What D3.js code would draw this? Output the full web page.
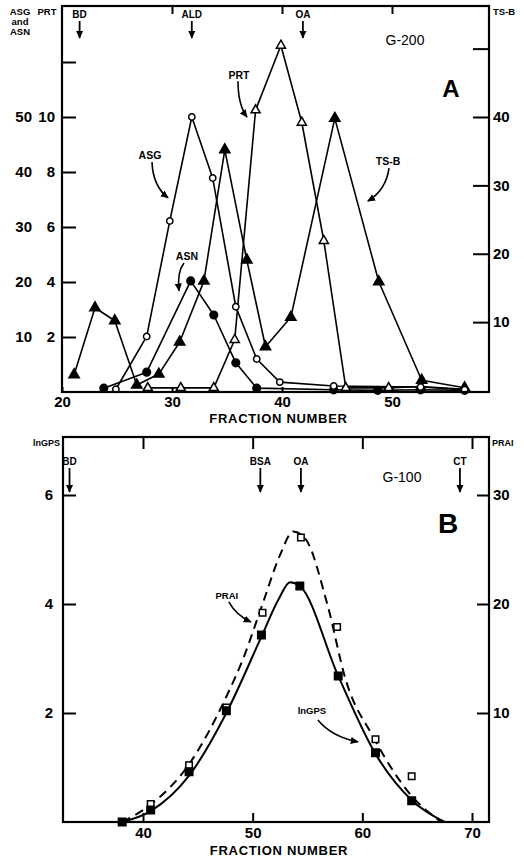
<!DOCTYPE html>
<html>
<head>
<meta charset="utf-8">
<script src="https://cdn.jsdelivr.net/npm/d3@7"></script>
<style>
  body { margin: 0; background: #fff; }
  svg { display: block; font-family: "Liberation Sans", Arial, sans-serif; }
</style>
</head>
<body>
<svg id="chart" width="524" height="857"></svg>
<script>
// ---- panel A (G-200): [fraction, value] ----
var asg = [[24.9,0.5],[27.7,10.1],[29.8,31.1],[31.8,50],[33.7,38.9],[35.8,15.5],[37.7,6],[39.8,1.8],[44.7,1.1],[52.6,0.9],[56.6,0.4]];
var asn = [[23.8,0.7],[27.7,3.6],[31.7,20.2],[33.8,14],[35.8,5.3],[37.7,0.7],[44.7,0.4],[48.7,0.3],[52.6,0.4],[56.6,0.3]];
var prt = [[27.8,0.15],[30.8,0.15],[33.8,0.15],[35.7,1.9],[37.6,10.25],[39.9,12.6],[41.8,9.8],[43.8,5.5],[45.8,0.15],[49.7,0.15],[52.6,0.2],[56.6,0.1]];
var tsb = [[21.1,2.3],[23,12.1],[24.8,10.2],[26.8,0.8],[28.8,2.4],[30.7,7.1],[32.9,16],[34.8,35.2],[36.8,19.1],[38.5,6.4],[40.8,10.7],[44.8,39.8],[48.8,15.9],[52.7,1.5],[56.6,0.4]];

var asgTicks = [10,20,30,40,50,60];
var asgLabels = ["10","20","30","40","50",""];
var prtLabels = ["2","4","6","8","10",""];
var tsbTicks = [10,20,30,40,50];
var tsbLabels = ["10","20","30","40",""];
var fracTicksA = [20,30,40,50];
var topTicksA = [30,40,50];
var markersA = ["BD","ALD","OA"];
var markerFracA = [21.6,31.8,41.9];

// ---- panel B (G-100) ----
var lngps = [[38.1,0],[40.7,0.22],[44.2,0.92],[47.6,2.04],[50.8,3.43],[54.3,4.33],[57.8,2.68],[61.2,1.27],[64.5,0.39]];
var prai = [[38.1,0],[40.7,1.65],[44.2,5.2],[47.6,10.5],[50.9,19.2],[54.4,26.1],[57.7,17.9],[61.2,7.6],[64.5,4.2]];
var lngpsFit = [[38.1,0],[40.7,0.2],[44.2,0.85],[47.6,2.0],[50.8,3.4],[52.4,4.1],[53.4,4.4],[54.3,4.33],[57.8,2.68],[61.2,1.25],[64.5,0.4],[67.5,0]];
var praiFit = [[38.1,0],[40.7,1.6],[44.2,5.3],[47.6,11.5],[49.1,14.9],[50.9,20],[52.5,24.5],[53.7,26.65],[54.8,26],[56.8,20],[58.5,13],[61,7.8],[64.2,2.75],[67.2,0]];

var lngpsTicks = [2,4,6];
var praiTicks = [10,20,30];
var fracTicksB = [40,50,60,70];
var markersB = ["BD","BSA","OA","CT"];
var markerFracB = [33.3,50.7,54.4,68.9];

var svg = d3.select("#chart");

svg.append("defs").append("marker")
    .attr("id", "head")
    .attr("viewBox", "0 0 10 10")
    .attr("refX", 9).attr("refY", 5)
    .attr("markerWidth", 8).attr("markerHeight", 8)
    .attr("markerUnits", "userSpaceOnUse")
    .attr("orient", "auto")
  .append("path")
    .attr("d", "M0,0.5 L10,5 L0,9.5 Z")
    .attr("fill", "#000");

function styleAxis(g, size, weight) {
  g.select(".domain").remove();
  g.attr("font-family", null).attr("font-size", null);
  g.selectAll(".tick line").attr("stroke", "#000").attr("stroke-width", 2);
  g.selectAll(".tick text").attr("font-size", size).attr("font-weight", weight || "bold").attr("fill", "#000");
}

function label(g, x, y, txt, size, anchor, weight) {
  return g.append("text").attr("x", x).attr("y", y)
    .attr("text-anchor", anchor || "middle")
    .attr("font-size", size)
    .attr("font-weight", weight || "bold")
    .text(txt);
}

function curvedArrow(g, p) {
  g.append("path")
    .attr("d", "M" + p[0] + "," + p[1] + " Q" + p[2] + "," + p[3] + " " + p[4] + "," + p[5])
    .attr("fill", "none").attr("stroke", "#000").attr("stroke-width", 1.6)
    .attr("marker-end", "url(#head)");
}

function marks(g, data, x, y, shape, size, filled) {
  g.selectAll(null).data(data).enter().append("path")
    .attr("transform", function(d) { return "translate(" + x(d[0]) + "," + y(d[1]) + ")"; })
    .attr("d", d3.symbol().type(shape).size(size))
    .attr("fill", filled ? "#000" : "#fff")
    .attr("stroke", "#000")
    .attr("stroke-width", 1.5);
}

function lineOf(g, data, x, y, curve, dash, w) {
  g.append("path").datum(data)
    .attr("fill", "none").attr("stroke", "#000")
    .attr("stroke-width", w)
    .attr("stroke-dasharray", dash)
    .attr("stroke-linejoin", "round")
    .attr("d", d3.line().x(function(d) { return x(d[0]); }).y(function(d) { return y(d[1]); }).curve(curve));
}

// ================= Panel A =================
var fA = {left: 62, right: 489, top: 6, bottom: 392};
var xA = d3.scaleLinear().domain([20, 50]).range([62, 392]);
var yA = d3.scaleLinear().domain([0, 50]).range([392, 117]);
var yP = d3.scaleLinear().domain([0, 10]).range([392, 117]);
var yT = d3.scaleLinear().domain([0, 40]).range([390.5, 117]);

var gA = svg.append("g");

// data lines
lineOf(gA, tsb, xA, yT, d3.curveLinear, null, 1.6);
lineOf(gA, asg, xA, yA, d3.curveLinear, null, 1.6);
lineOf(gA, asn, xA, yA, d3.curveLinear, null, 1.6);
lineOf(gA, prt, xA, yP, d3.curveLinear, null, 1.6);

marks(gA, tsb, xA, yT, d3.symbolTriangle, 46, true);
marks(gA, prt, xA, yP, d3.symbolTriangle, 36, false);
marks(gA, asn, xA, yA, d3.symbolCircle, 46, true);
marks(gA, asg, xA, yA, d3.symbolCircle, 32, false);

// frame
gA.append("rect").attr("x", fA.left).attr("y", fA.top)
  .attr("width", fA.right - fA.left).attr("height", fA.bottom - fA.top)
  .attr("fill", "none").attr("stroke", "#000").attr("stroke-width", 2.2);

gA.append("g").attr("transform", "translate(" + fA.left + ",0)")
  .call(d3.axisLeft(yA).tickValues(asgTicks).tickSize(-14).tickSizeOuter(0).tickPadding(7)
    .tickFormat(function(d, i) { return prtLabels[i]; }))
  .call(styleAxis, 15);
gA.append("g").attr("transform", "translate(" + fA.left + ",0)")
  .call(d3.axisLeft(yA).tickValues(asgTicks).tickSize(0).tickSizeOuter(0).tickPadding(30)
    .tickFormat(function(d, i) { return asgLabels[i]; }))
  .call(styleAxis, 15);
gA.append("g").attr("transform", "translate(" + fA.right + ",0)")
  .call(d3.axisRight(yT).tickValues(tsbTicks).tickSize(-16).tickSizeOuter(0).tickPadding(4)
    .tickFormat(function(d, i) { return tsbLabels[i]; }))
  .call(styleAxis, 15);
gA.append("g").attr("transform", "translate(0," + fA.bottom + ")")
  .call(d3.axisBottom(xA).tickValues(fracTicksA).tickSize(-5).tickSizeOuter(0).tickPadding(4).tickFormat(d3.format("d")))
  .call(styleAxis, 15);
gA.append("g").attr("transform", "translate(0," + fA.top + ")")
  .call(d3.axisTop(xA).tickValues(topTicksA).tickSize(-8).tickSizeOuter(0).tickFormat(""))
  .call(styleAxis, 15);

label(gA, 20, 15, "ASG", 9.5);
label(gA, 20, 25, "and", 9.5);
label(gA, 20, 35, "ASN", 9.5);
label(gA, 47, 15, "PRT", 9.5);
label(gA, 493, 15, "TS-B", 9.5, "start");
label(gA, 405, 45, "G-200", 14, "middle", "normal");
label(gA, 451, 97, "A", 24);
label(gA, (fA.left + fA.right) / 2 + 3, 423, "FRACTION NUMBER", 13).attr("letter-spacing", 0.7);

markersA.forEach(function(m, i) {
  var x = xA(markerFracA[i]);
  label(gA, x, fA.top + 12, m, 10);
  gA.append("line").attr("x1", x).attr("x2", x).attr("y1", fA.top + 15).attr("y2", fA.top + 32)
    .attr("stroke", "#000").attr("stroke-width", 1.8).attr("marker-end", "url(#head)");
});

// series annotations (label position and arrow, in data units)
label(gA, xA(36.09), yA(57.64) + 4, "PRT", 10.5);
curvedArrow(gA, [xA(36.0), yA(56.5), xA(36.0), yA(52.2), xA(36.82), yA(50)]);
label(gA, xA(28.0), yA(43.1) + 4, "ASG", 10.5);
curvedArrow(gA, [xA(28.18), yA(41.8), xA(28.27), yA(37.45), xA(29.64), yA(35.3)]);
label(gA, xA(31.36), yA(24.7) + 4, "ASN", 10.5);
curvedArrow(gA, [xA(31.09), yA(23.45), xA(30.45), yA(21.8), xA(30.64), yA(18.4)]);
label(gA, xA(49.64), yA(42.0) + 4, "TS-B", 10.5);
curvedArrow(gA, [xA(49.73), yA(40.7), xA(49.45), yA(36.7), xA(47.8), yA(34.7)]);

// ================= Panel B =================
var fB = {left: 63, right: 489, top: 437, bottom: 822};
var xB = d3.scaleLinear().domain([40, 70]).range([143, 472]);
var yB = d3.scaleLinear().domain([0, 6]).range([822, 495]);
var yR = d3.scaleLinear().domain([0, 30]).range([822, 495]);

var gB = svg.append("g");

lineOf(gB, praiFit, xB, yR, d3.curveMonotoneX, "9,6", 2);
lineOf(gB, lngpsFit, xB, yB, d3.curveMonotoneX, null, 2);

marks(gB, prai, xB, yR, d3.symbolSquare, 42, false);
marks(gB, lngps, xB, yB, d3.symbolSquare, 56, true);

gB.append("rect").attr("x", fB.left).attr("y", fB.top)
  .attr("width", fB.right - fB.left).attr("height", fB.bottom - fB.top)
  .attr("fill", "none").attr("stroke", "#000").attr("stroke-width", 2.2);

gB.append("g").attr("transform", "translate(" + fB.left + ",0)")
  .call(d3.axisLeft(yB).tickValues(lngpsTicks).tickSize(-13).tickSizeOuter(0).tickPadding(10).tickFormat(d3.format("d")))
  .call(styleAxis, 15);
gB.append("g").attr("transform", "translate(" + fB.right + ",0)")
  .call(d3.axisRight(yR).tickValues(praiTicks).tickSize(-12).tickSizeOuter(0).tickPadding(4).tickFormat(d3.format("d")))
  .call(styleAxis, 15);
gB.append("g").attr("transform", "translate(0," + fB.bottom + ")")
  .call(d3.axisBottom(xB).tickValues(fracTicksB).tickSize(-9).tickSizeOuter(0).tickPadding(5).tickFormat(d3.format("d")))
  .call(styleAxis, 15);
gB.append("g").attr("transform", "translate(0," + fB.top + ")")
  .call(d3.axisTop(xB).tickValues(fracTicksB).tickSize(-12).tickSizeOuter(0).tickFormat(""))
  .call(styleAxis, 15);

label(gB, 60, 446, "lnGPS", 9, "end");
label(gB, 492, 446, "PRAI", 9, "start");
label(gB, 402, 482, "G-100", 14, "middle", "normal");
label(gB, 448, 533, "B", 28);
label(gB, (fB.left + fB.right) / 2 + 3, 855, "FRACTION NUMBER", 13).attr("letter-spacing", 0.7);

markersB.forEach(function(m, i) {
  var x = xB(markerFracB[i]);
  label(gB, x, fB.top + 28, m, 10);
  gB.append("line").attr("x1", x).attr("x2", x).attr("y1", fB.top + 31).attr("y2", fB.top + 55)
    .attr("stroke", "#000").attr("stroke-width", 1.8).attr("marker-end", "url(#head)");
});

label(gB, xB(47.65), yB(4.17) + 4, "PRAI", 9.5);
curvedArrow(gB, [xB(47.83), yB(4.04), xB(48.47), yB(3.80), xB(49.84), yB(3.67)]);
label(gB, xB(55.4), yB(2.06) + 4, "lnGPS", 9.5);
curvedArrow(gB, [xB(55.95), yB(1.87), xB(57.22), yB(1.56), xB(59.6), yB(1.47)]);
</script>
</body>
</html>
